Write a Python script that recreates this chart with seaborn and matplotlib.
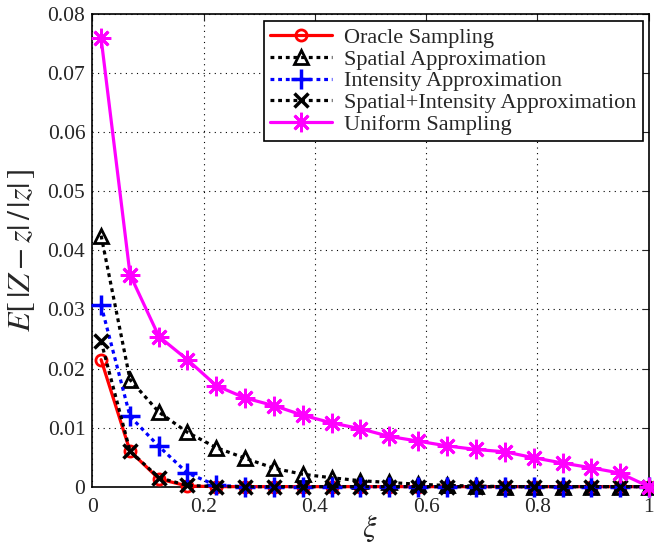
import numpy as np
import pandas as pd
import seaborn as sns
import matplotlib.pyplot as plt

# valores
xi = [0.016, 0.068, 0.120, 0.171, 0.223, 0.275, 0.327, 0.378, 0.430, 0.482,
      0.534, 0.586, 0.637, 0.689, 0.741, 0.793, 0.845, 0.896, 0.948, 1.000]

oracle = [0.0215, 0.0060, 0.0013, 0.0001, 0, 0, 0, 0, 0, 0,
          0, 0, 0, 0, 0, 0, 0, 0, 0, 0]
spatial = [0.0425, 0.0181, 0.0126, 0.0092, 0.0066, 0.0048, 0.0031, 0.0021, 0.0015, 0.0010,
           0.0007, 0.0004, 0.0002, 0.0001, 0, 0, 0, 0, 0, 0]
intensity = [0.0307, 0.0119, 0.0068, 0.0023, 0.0002, 0, 0, 0, 0, 0,
             0, 0, 0, 0, 0, 0, 0, 0, 0, 0]
spat_int = [0.0246, 0.0060, 0.0015, 0.0002, 0, 0, 0, 0, 0, 0,
            0, 0, 0, 0, 0, 0, 0, 0, 0, 0]
uniform = [0.0759, 0.0359, 0.0254, 0.0215, 0.0171, 0.0150, 0.0137, 0.0121, 0.0108, 0.0098,
           0.0085, 0.0077, 0.0069, 0.0063, 0.0059, 0.0049, 0.0040, 0.0032, 0.0023, 0.0]

labels = ["Oracle Sampling", "Spatial Approximation", "Intensity Approximation",
          "Spatial+Intensity Approximation", "Uniform Sampling"]

sns.set_style("white")
plt.rcParams["font.family"] = ["Liberation Serif", "DejaVu Serif"]
plt.rcParams["mathtext.fontset"] = "stix"

fig = plt.figure(figsize=(6.54, 5.48), dpi=100)
ax = fig.add_axes([0.141, 0.112, 0.851, 0.862])

dot = (0, (1.2, 1.2))
estilos = [
    (oracle, "red", "-", "o", 8, 2.0),
    (spatial, "black", dot, "^", 10, 2.0),
    (intensity, "blue", dot, "+", 14, 2.5),
    (spat_int, "black", dot, "x", 10, 2.5),
    (uniform, "magenta", "-", (8, 2, 0), 14, 2.0),
]

for (vals, cor, ls, mk, ms, mew), lab in zip(estilos, labels):
    df = pd.DataFrame({"xi": xi, "val": vals})
    sns.lineplot(data=df, x="xi", y="val", ax=ax, color=cor, linestyle=ls,
                 linewidth=2.3, marker=mk, markersize=ms, markeredgewidth=mew,
                 markerfacecolor="none", markeredgecolor=cor, label=lab,
                 clip_on=False, zorder=3)

ax.set_xlim(0, 1)
ax.set_ylim(0, 0.08)
ax.set_xticks([0, 0.2, 0.4, 0.6, 0.8, 1])
ax.set_xticklabels(["0", "0.2", "0.4", "0.6", "0.8", "1"])
ax.set_yticks(np.arange(0, 0.081, 0.01))
ax.set_yticklabels(["0"] + [f"{v:.2f}" for v in np.arange(0.01, 0.081, 0.01)])
ax.grid(True, color="black", linestyle=(0, (1, 4)), linewidth=0.8)
ax.tick_params(direction="in", top=True, right=True, labelsize=15.5, length=5,
               width=0.8)
ax.tick_params(axis="x", pad=8)
ax.tick_params(axis="y", pad=5)
for s in ax.spines.values():
    s.set_color("black")
    s.set_linewidth(1.2)

ax.set_xlabel(r"$\xi$", fontsize=22)
ax.xaxis.set_label_coords(0.498, -0.058)
ax.set_ylabel(r"$E[\,|Z-z|\,/\,|z|\,]$", fontsize=23)
ax.yaxis.set_label_coords(-0.1, 0.5)

leg = ax.legend(loc="upper right", bbox_to_anchor=(0.989, 0.986), fontsize=16,
                frameon=True, fancybox=False, edgecolor="black", framealpha=1,
                handlelength=2.8, labelspacing=0.05, borderpad=0.3,
                handletextpad=0.5, borderaxespad=0)
leg.get_frame().set_linewidth(1.2)

fig.savefig("out.png", dpi=100)
